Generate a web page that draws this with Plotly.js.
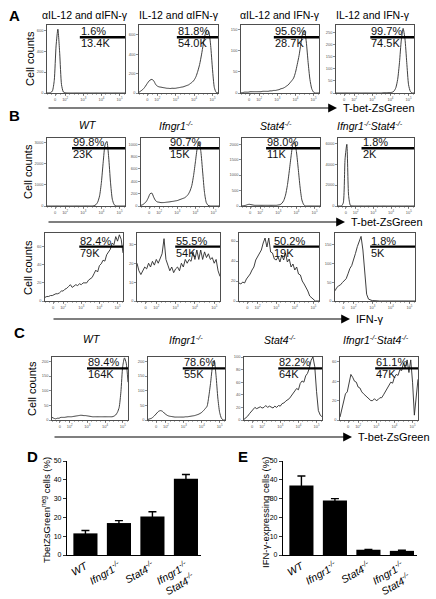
<!DOCTYPE html>
<html><head><meta charset="utf-8">
<script src="https://cdn.plot.ly/plotly-3.0.1.min.js"></script>
<style>html,body{margin:0;padding:0;background:#fff}#chart{width:436px;height:599px}</style>
</head><body><div id="chart"></div>
<script>
// ---------- DATA ----------
const xGrid = [1.0,1.1,1.2,1.3,1.4,1.5,1.6,1.7,1.8,1.9,2.0,2.1,2.2,2.3,2.4,2.5,2.6,2.7,2.8,2.9,3.0,3.1,3.2,3.3,3.4,3.5,3.6,3.7,3.8,3.9,4.0,4.1,4.2,4.3,4.4,4.5,4.6,4.7,4.8,4.9,5.0,5.1,5.2,5.3];
const xTickVals = [1.45,2,3,4,5];
const xTickText = ['0','10<sup>2</sup>','10<sup>3</sup>','10<sup>4</sup>','10<sup>5</sup>'];

// Panel A: T-bet-ZsGreen under 4 cytokine conditions
const countsA1 = [0,1,3,20,120,450,610,380,80,10, 2,0,0,0,0,0,0,0,0,0, 0,0,0,0,0,0,0,0,0,0, 0,0,0,0,0,0,0,0,0,0, 0,0,0,0];
const countsA2 = [7,21,35,56,84,112,133,140,126,91, 70,63,60,56,53,49,48,46,49,48, 49,53,56,60,63,70,77,84,98,112, 133,168,224,294,392,504,602,651,630,490, 245,56,7,0];
const countsA3 = [0,1,2,2,2,3,3,3,3,3, 3,3,4,4,4,4,5,5,6,6, 7,8,10,11,13,16,19,24,29,35, 48,67,88,115,141,147,120,72,32,10, 2,0,0,0];
const countsA4 = [0,0,0,0,0,0,0,0,0,0, 0,0,0,0,0,0,0,0,0,0, 0,0,0,0,0,0,1,1,1,2, 2,3,8,22,56,126,218,266,224,126, 34,6,0,0];
// Panel B top: T-bet-ZsGreen by genotype
const countsB1 = [0,0,0,0,0,0,0,0,0,0, 0,0,0,0,0,0,0,0,0,0, 0,0,0,0,0,0,16,64,192,480, 1120,2080,2880,3040,2300,1120,320,64,0,0, 0,0,0,0];
const countsB2 = [11,22,44,77,132,198,209,143,88,66, 61,55,55,57,61,64,68,73,77,83, 88,99,110,121,132,154,187,242,330,495, 715,935,1034,880,550,220,55,11,0,0, 0,0,0,0];
const countsB3 = [0,11,22,44,55,44,33,22,22,22, 22,22,22,22,22,22,22,22,22,22, 33,44,88,176,352,660,1100,1584,1980,2068, 1760,1210,616,198,44,0,0,0,0,0, 0,0,0,0];
const countsB4 = [0,0,10,300,4500,5900,1000,60,5,0, 0,0,0,0,0,0,0,0,0,0, 0,0,0,0,0,0,0,0,0,0, 0,0,0,0,0,0,0,0,0,0, 0,0,0,0];
// Panel B bottom: IFN-gamma by genotype
const countsB5 = [4,5,5,6,6,7,8,8,9,11, 11,13,14,16,18,15,17,18,17,19, 18,20,20,20,23,25,26,30,34,32, 39,41,45,44,51,54,57,64,62,71, 66,73,68,53];
const countsB6 = [20,16,14,16,18,17,20,18,21,19, 22,20,23,25,33,22,19,16,18,15, 17,18,16,20,18,22,20,22,21,26, 22,27,22,27,22,26,23,25,22,23, 20,22,16,13];
const countsB7 = [18,17,19,18,22,24,27,31,34,41, 44,48,51,58,63,54,63,49,48,42, 41,44,39,46,41,48,39,42,34,37, 31,34,27,26,20,17,14,10,5,3, 1,0,0,0];
const countsB8 = [27,36,40,43,49,54,59,72,86,94, 108,126,144,158,171,135,63,18,5,2, 1,1,0,0,0,0,0,0,0,0, 0,0,0,0,0,0,0,0,0,0, 0,0,0,0];
// Panel C: T-bet-ZsGreen by genotype
const countsC1 = [9,6,4,6,6,9,9,9,10,11, 11,11,12,13,14,15,16,16,15,15, 14,13,12,11,11,11,11,11,11,11, 11,11,11,11,11,13,17,26,43,97, 183,212,194,129];
const countsC2 = [2,4,6,11,17,24,30,32,30,24, 19,15,13,12,11,10,10,10,10,10, 10,11,11,12,13,14,15,17,19,22, 26,32,39,47,82,129,183,204,151,75, 26,6,0,0];
const countsC3 = [1,3,6,10,14,17,20,18,20,21, 19,20,23,20,22,21,19,22,20,23, 22,26,27,30,32,34,38,42,45,50, 48,58,62,60,70,74,82,95,100,85, 45,15,8,5];
const countsC4 = [3,10,20,27,29,39,47,44,40,39, 34,33,29,27,25,23,21,20,20,22, 20,21,23,23,26,29,33,36,39,38, 44,47,46,52,51,59,53,62,49,62, 39,5,23,42];

const yMax = [650,700,160,280, 3200,1100,2200,6500, 75,36,68,180, 215,215,100,65];
const yTicks = [[0,200,400,600],[0,200,400,600],[0,50,100,150],[0,50,100,150,200,250],
  [0,1000,2000,3000],[0,200,400,600,800,1000],[0,500,1000,1500,2000],[0,2000,4000,6000],
  [0,20,40,60],[0,10,20,30],[0,20,40,60],[0,50,100,150],
  [0,50,100,150,200],[0,50,100,150,200],[0,20,40,60,80,100],[0,20,40,60]];

const titlesA = ['\u03b1IL-12 and \u03b1IFN-\u03b3','IL-12 and \u03b1IFN-\u03b3','\u03b1IL-12 and IFN-\u03b3','IL-12 and IFN-\u03b3'];
const genotypes = ['<i>WT</i>','<i>Ifngr1<sup>-/-</sup></i>','<i>Stat4<sup>-/-</sup></i>','<i>Ifngr1<sup>-/-</sup>Stat4<sup>-/-</sup></i>'];

const gates = [[2.81,3.06,2.81,2.89],[2.38,2.55,2.33,2.33],[2.89,2.98,2.85,2.89],[2.98,2.94,2.89,2.94]];
const pctLabels = [['1.6%','81.8%','95.6%','99.7%'],['99.8%','90.7%','98.0%','1.8%'],['82.4%','55.5%','50.2%','1.8%'],['89.4%','78.6%','82.2%','61.1%']];
const cntLabels = [['13.4K','54.0K','28.7K','74.5K'],['23K','15K','11K','2K'],['79K','54K','19K','5K'],['164K','55K','64K','47K']];

const barCats = ['WT','Ifngr1-/-','Stat4-/-','Ifngr1-/- Stat4-/-'];
const barTickText = ['<i>WT</i>','<i>Ifngr1<sup>-/-</sup></i>','<i>Stat4<sup>-/-</sup></i>','<i>Ifngr1<sup>-/-</sup><br>Stat4<sup>-/-</sup></i>'];
const tbetNegPct = [11.5,17.0,20.5,40.5];
const tbetNegErr = [1.5,1.3,2.5,2.3];
const ifngPct = [37.0,29.0,2.8,2.2];
const ifngErr = [5.0,1.0,0.2,0.3];
const barYTicks = [0,10,20,30,40,50];

// ---------- LAYOUT GEOMETRY ----------
const W=436,H=599;
const FONT='Liberation Sans, Arial, sans-serif';
const px=(a)=>a/W, py=(b)=>1-b/H;
const rows=[
  {top:25,bot:93,cols:[[47,125],[139,218],[241,319],[336,414]],gy:0.82},
  {top:138,bot:206,cols:[[47,125],[141,219],[242,320],[338,414]],gy:0.85},
  {top:233,bot:301,cols:[[45,123],[137,220],[239,319],[335,415]],gy:0.80},
  {top:357,bot:420,cols:[[52,128],[148,225],[244,322],[340,418]],gy:0.82}
];
const hists=[countsA1,countsA2,countsA3,countsA4,countsB1,countsB2,countsB3,countsB4,countsB5,countsB6,countsB7,countsB8,countsC1,countsC2,countsC3,countsC4];
const smooth=[1,1,1,1,1,1,1,1,0,0,0,0,1,1,0,0];

const data=[], layout={
  width:W,height:H,margin:{l:0,r:0,t:0,b:0},showlegend:false,
  paper_bgcolor:'#fff',plot_bgcolor:'rgba(0,0,0,0)',
  font:{family:FONT,color:'#000'},annotations:[],shapes:[]
};
const ax=(k)=>k===1?'':String(k);

hists.forEach((ys,i)=>{
  const k=i+1, r=rows[Math.floor(i/4)], c=r.cols[i%4];
  data.push({x:xGrid,y:ys,type:'scatter',mode:'lines',xaxis:'x'+ax(k),yaxis:'y'+ax(k),
    line:{color:'#2a2a2a',width:0.9,shape:smooth[i]?'spline':'linear',smoothing:0.6},hoverinfo:'skip',cliponaxis:true});
  layout['xaxis'+ax(k)]={domain:[px(c[0]),px(c[1])],range:[1,5.3],anchor:'y'+ax(k),
    showline:true,mirror:true,linecolor:'#222',linewidth:0.8,showgrid:false,zeroline:false,
    ticks:'outside',ticklen:2,tickwidth:0.6,tickcolor:'#444',tickvals:xTickVals,ticktext:xTickText,
    tickfont:{size:4,color:'#555'},
    minor:{dtick:0.25,ticklen:1.2,tickwidth:0.5,tickcolor:'#666',ticks:'outside'},fixedrange:true};
  layout['yaxis'+ax(k)]={domain:[py(r.bot),py(r.top)],range:[0,yMax[i]],anchor:'x'+ax(k),
    showline:true,mirror:true,linecolor:'#222',linewidth:0.8,showgrid:false,zeroline:false,
    ticks:'outside',ticklen:2,tickwidth:0.6,tickcolor:'#444',tickvals:yTicks[i],
    tickfont:{size:4,color:'#555'},fixedrange:true};
  const ri=Math.floor(i/4), ci=i%4, g=gates[ri][ci];
  layout.shapes.push({type:'line',xref:'x'+ax(k),yref:'y'+ax(k)+' domain',x0:g,x1:5.3,y0:r.gy,y1:r.gy,
    line:{color:'#000',width:2.4}});
  layout.annotations.push({xref:'x'+ax(k),yref:'y'+ax(k)+' domain',x:g,y:r.gy,xanchor:'left',yanchor:'bottom',
    text:pctLabels[ri][ci],showarrow:false,font:{size:11,color:'#111'},borderpad:0,yshift:-1});
  layout.annotations.push({xref:'x'+ax(k),yref:'y'+ax(k)+' domain',x:g,y:r.gy,xanchor:'left',yanchor:'top',
    text:cntLabels[ri][ci],showarrow:false,font:{size:11,color:'#111'},borderpad:0,yshift:1});
});

// bar charts
const barDefs=[
  {k:17,vals:tbetNegPct,err:tbetNegErr,x:[67,201]},
  {k:18,vals:ifngPct,err:ifngErr,x:[283,417]}
];
barDefs.forEach(b=>{
  data.push({type:'bar',x:barCats,y:b.vals,xaxis:'x'+b.k,yaxis:'y'+b.k,width:0.72,
    marker:{color:'#000',line:{width:0}},hoverinfo:'skip',
    error_y:{type:'data',array:b.err,visible:true,color:'#000',thickness:1.4,width:4}});
  layout['xaxis'+b.k]={domain:[px(b.x[0]),px(b.x[1])],anchor:'y'+b.k,type:'category',range:[-0.55,3.45],
    showline:true,linecolor:'#000',linewidth:1.1,ticks:'',showgrid:false,zeroline:false,
    tickvals:barCats,ticktext:barTickText,tickangle:-30,tickfont:{size:10.5,color:'#000'},fixedrange:true};
  layout['yaxis'+b.k]={domain:[py(555),py(461)],anchor:'x'+b.k,range:[0,50],
    showline:true,linecolor:'#000',linewidth:1.1,ticks:'outside',ticklen:3,tickwidth:0.8,tickcolor:'#000',
    tickvals:barYTicks,tickfont:{size:7,color:'#000'},showgrid:false,zeroline:false,fixedrange:true};
});

const A=layout.annotations;
function txt(x,y,t,o){A.push(Object.assign({xref:'paper',yref:'paper',x:px(x),y:py(y),text:t,showarrow:false,
  xanchor:'center',yanchor:'middle',font:{size:11,color:'#000'}},o||{}));}
// panel letters
[['A',14,15],['B',14,115],['C',19,332],['D',32,456],['E',243,457]].forEach(l=>txt(l[1],l[2],'<b>'+l[0]+'</b>',{font:{size:15,color:'#000'}}));
// column titles
[85,179,280,373].forEach((c,i)=>txt(c,15,titlesA[i],{font:{size:10.5,color:'#000'}}));
[88,176,276,370].forEach((c,i)=>txt(c,125,genotypes[i],{font:{size:10.5,color:'#000'}}));
[92,186,280,376].forEach((c,i)=>txt(c,339,genotypes[i],{font:{size:10.5,color:'#000'}}));
// Cell counts
[[30,59],[28,172],[28,268],[32,389]].forEach(p=>txt(p[0],p[1],'Cell counts',{textangle:-90,font:{size:11,color:'#000'}}));
// arrows
[[108,47,337,'T-bet-ZsGreen'],[222,47,345,'T-bet-ZsGreen'],[319,52,350,'IFN-\u03b3'],[437,53,352,'T-bet-ZsGreen']].forEach(a=>{
  A.push({xref:'paper',yref:'paper',x:px(a[2]),y:py(a[0]),text:'',showarrow:true,ax:a[1]-a[2],ay:0,
    axref:'pixel',ayref:'pixel',arrowhead:2,arrowsize:1.6,arrowwidth:1.1,arrowcolor:'#000',standoff:0,startstandoff:0});
  txt(a[2]+4,a[0],a[3],{xanchor:'left',font:{size:11,color:'#000'}});
});
// bar y titles
txt(46,510,'TbetZsGreen<sup>neg</sup> cells (%)',{textangle:-90,font:{size:9.5,color:'#000'}});
txt(265,513,'IFN-\u03b3-expressing cells (%)',{textangle:-90,font:{size:9.5,color:'#000'}});

Plotly.newPlot('chart',data,layout,{staticPlot:true,displayModeBar:false});
</script>
</body></html>
